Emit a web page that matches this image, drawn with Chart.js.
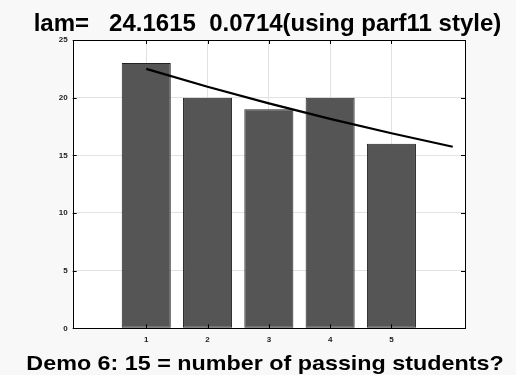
<!DOCTYPE html>
<html>
<head>
<meta charset="utf-8">
<script src="https://cdn.jsdelivr.net/npm/chart.js@4/dist/chart.umd.min.js"></script>
<style>
  html, body { margin: 0; padding: 0; background: #f8f8f8; }
  #wrap { width: 516px; height: 375px; position: relative; }
</style>
</head>
<body>
<div id="wrap"><canvas id="c" width="516" height="375"></canvas></div>
<script>
// Counts per group and the fitted exponential curve drawn over them
const categories = [1, 2, 3, 4, 5];
const counts = [23, 20, 19, 20, 16];
const fitX = [1, 2, 3, 4, 5, 6];
const fitY = [22.50, 20.95, 19.50, 18.16, 16.91, 15.74];
const xTicks = [1, 2, 3, 4, 5];
const yTicks = [0, 5, 10, 15, 20, 25];
const titleText = 'lam=   24.1615  0.0714(using parf11 style)';
const xLabelText = 'Demo 6: 15 = number of passing students?';

const tickFont = { family: 'Liberation Sans, Arial, sans-serif', size: 8, weight: 'bold' };

// Frame, inward ticks and the two text lines
const framePlugin = {
  id: 'frame',
  beforeDraw(chart) {
    const { ctx, chartArea: a } = chart;
    ctx.save();
    ctx.fillStyle = '#ffffff';
    ctx.fillRect(a.left, a.top, a.right - a.left, a.bottom - a.top);
    ctx.restore();
  },
  afterDatasetsDraw(chart) {
    const { ctx, chartArea: a, scales } = chart;
    ctx.save();
    ctx.strokeStyle = '#000000';
    ctx.lineWidth = 1;
    ctx.beginPath();
    xTicks.forEach(v => {
      const px = Math.round(scales.x.getPixelForValue(v)) + 0.5;
      ctx.moveTo(px, a.bottom); ctx.lineTo(px, a.bottom - 4);
      ctx.moveTo(px, a.top); ctx.lineTo(px, a.top + 4);
    });
    yTicks.forEach(v => {
      const py = Math.round(scales.y.getPixelForValue(v)) + 0.5;
      ctx.moveTo(a.left, py); ctx.lineTo(a.left + 4, py);
      ctx.moveTo(a.right, py); ctx.lineTo(a.right - 4, py);
    });
    ctx.stroke();
    ctx.strokeRect(Math.round(a.left) + 0.5, Math.round(a.top) + 0.5,
                   Math.round(a.right - a.left), Math.round(a.bottom - a.top));
    ctx.restore();
  },
  afterDraw(chart) {
    const { ctx } = chart;
    ctx.save();
    ctx.fillStyle = '#000000';
    ctx.textAlign = 'center';
    ctx.textBaseline = 'alphabetic';
    ctx.font = 'bold 24px "Liberation Sans", Arial, sans-serif';
    ctx.fillText(titleText, 267.5, 30.5);
    // bottom caption is set slightly wide
    ctx.translate(265, 370);
    ctx.scale(1.11, 1);
    ctx.font = 'bold 21px "Liberation Sans", Arial, sans-serif';
    ctx.fillText(xLabelText, 0, 0);
    ctx.restore();
  }
};

new Chart(document.getElementById('c'), {
  data: {
    datasets: [
      {
        type: 'bar',
        data: categories.map((c, i) => ({ x: c, y: counts[i] })),
        backgroundColor: '#555555',
        borderColor: '#222222',
        borderWidth: 1,
        borderSkipped: false,
        barPercentage: 0.8,
        categoryPercentage: 1.0,
        order: 2
      },
      {
        type: 'line',
        data: fitX.map((x, i) => ({ x: x, y: fitY[i] })),
        borderColor: '#000000',
        borderWidth: 2.2,
        pointRadius: 0,
        tension: 0,
        fill: false,
        order: 1
      }
    ]
  },
  options: {
    responsive: false,
    animation: false,
    devicePixelRatio: 1,
    layout: { padding: { top: 40, right: 51, left: 0, bottom: 0 } },
    plugins: { legend: { display: false }, tooltip: { enabled: false }, title: { display: false } },
    scales: {
      x: {
        type: 'linear',
        offset: false,
        min: -0.2,
        max: 6.2,
        afterBuildTicks(scale) { scale.ticks = xTicks.map(v => ({ value: v })); },
        afterFit(scale) { scale.height = 46.7; },
        grid: { offset: false, color: '#e2e2e2', drawTicks: false, lineWidth: 1 },
        border: { display: false },
        ticks: { color: '#222', font: tickFont, padding: 7, maxRotation: 0 }
      },
      y: {
        min: 0,
        max: 25,
        afterBuildTicks(scale) { scale.ticks = yTicks.map(v => ({ value: v })); },
        afterFit(scale) { scale.width = 72.7; },
        grid: {
          color: (c) => (c.tick && (c.tick.value === 0 || c.tick.value === 25)) ? 'rgba(0,0,0,0)' : '#e2e2e2',
          drawTicks: false, lineWidth: 1
        },
        border: { display: false },
        ticks: { color: '#222', font: tickFont, padding: 5 }
      }
    }
  },
  plugins: [framePlugin]
});
</script>
</body>
</html>
